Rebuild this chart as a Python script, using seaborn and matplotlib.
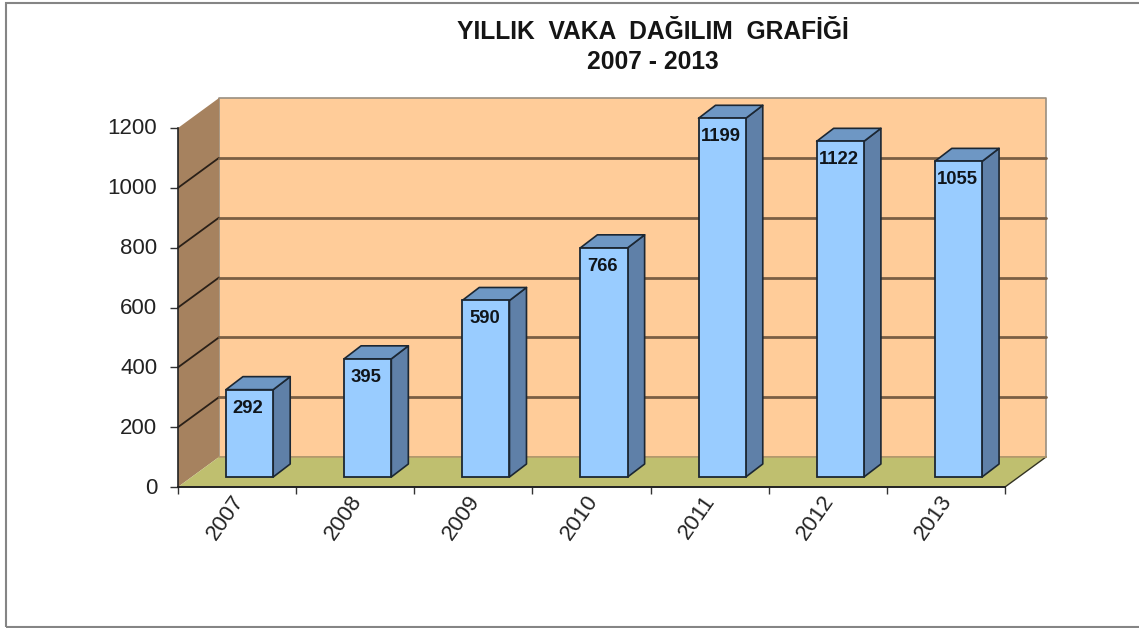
import matplotlib

matplotlib.use("Agg")
import matplotlib.pyplot as plt
import numpy as np
import pandas as pd
import seaborn as sns
from matplotlib.patches import Polygon, Rectangle
from matplotlib.transforms import Affine2D, IdentityTransform

YEARS = ["2007", "2008", "2009", "2010", "2011", "2012", "2013"]
CASES = [292, 395, 590, 766, 1199, 1122, 1055]
Y_TICKS = [0, 200, 400, 600, 800, 1000, 1200]
TITLE = "YILLIK  VAKA  DAĞILIM  GRAFİĞİ\n2007 - 2013"

WALL = "#FFCC99"
SIDE_WALL = "#A6825F"
FLOOR = "#BFBF6F"
BAR_FRONT = "#99CCFF"
BAR_SIDE = "#5F80A8"
BAR_TOP = "#6E97C4"
EDGE = "#1c2733"
GRID = "#7a5f44"
W, H = 1139, 628

sns.set_theme(style="white")
plt.rcParams["font.family"] = ["Liberation Sans", "DejaVu Sans"]

fig = plt.figure(figsize=(W / 100, H / 100), dpi=100, facecolor="white")
ax = fig.add_axes([178 / W, (H - 487) / H, 827 / W, 359 / H])
ax.set_facecolor("none")

df = pd.DataFrame({"year": YEARS, "cases": CASES})
sns.barplot(data=df, x="year", y="cases", width=0.4, color=BAR_FRONT, saturation=1,
            edgecolor=EDGE, linewidth=1.3, ax=ax, zorder=5)
ax.set_xlim(-0.5, 6.5)
ax.set_ylim(0, 1200)
ax.set_xlabel("")
ax.set_ylabel("")

# fake 3d depth, everything below is offset in pixels from the front plane
DX, DY = 41, 30
BAR_SHIFT = (12.5, 10)
BAR_DEPTH = (17, 13)
ident = IdentityTransform()


def px(x, y):
    return ax.transData.transform((x, y))


def poly(points, face, edge="none", lw=0.0, z=1):
    fig_poly = Polygon(np.array(points), closed=True, facecolor=face, edgecolor=edge, linewidth=lw,
                       transform=ident, zorder=z, clip_on=False, joinstyle="round")
    ax.add_patch(fig_poly)


def back(p):
    return p + np.array([DX, DY])


left0, right0 = px(-0.5, 0), px(6.5, 0)
left1, right1 = px(-0.5, 1200), px(6.5, 1200)

poly([back(left0), back(right0), back(right1), back(left1)], WALL, "#9a8f80", 1.2, z=1)
poly([left0, back(left0), back(left1), left1], SIDE_WALL, z=1.2)
poly([left0, right0, back(right0), back(left0)], FLOOR, z=1.4)
ax.plot(*np.array([right0, back(right0)]).T, color="#333322", lw=1, transform=ident, zorder=1.5, clip_on=False)
ax.plot(*np.array([back(left0), back(right0)]).T, color="#b59a6a", lw=1.2, transform=ident, zorder=1.5, clip_on=False)

for tick in Y_TICKS[1:-1]:
    a = px(-0.5, tick)
    ax.plot(*np.array([a, back(a)]).T, color="#2a2018", lw=1.3, transform=ident, zorder=1.6, clip_on=False)
    ax.plot(*np.array([back(a), back(px(6.5, tick))]).T, color=GRID, lw=2, transform=ident, zorder=1.6, clip_on=False)

# bars: move the seaborn faces forward and add side and top from their extents
bar_tf = ax.transData + Affine2D().translate(*BAR_SHIFT)
for bar, value in zip(ax.patches[:len(CASES)], CASES):
    x0, x1 = bar.get_x(), bar.get_x() + bar.get_width()
    bar.set_transform(bar_tf)
    bar.set_clip_on(False)
    br = bar_tf.transform((x1, 0))
    tl = bar_tf.transform((x0, value))
    tr = bar_tf.transform((x1, value))
    d = np.array(BAR_DEPTH)
    poly([br, br + d, tr + d, tr], BAR_SIDE, EDGE, 1.2, z=4)
    poly([tl, tr, tr + d, tl + d], BAR_TOP, EDGE, 1.2, z=4)
    ax.text((x0 + x1) / 2, value, str(value), transform=bar_tf + Affine2D().translate(-1.5, -10),
            ha="center", va="top", fontsize=13.3, fontweight="bold", color="#10151a", zorder=6, clip_on=False)

# ticks sit on category edges, labels on the centres
ax.set_xticks(np.arange(-0.5, 7))
ax.set_xticklabels([])
ax.set_xticks(np.arange(7), labels=YEARS, minor=True)
ax.set_yticks(Y_TICKS)
ax.tick_params(axis="x", which="major", length=5, width=1, color="#333333", bottom=True)
ax.tick_params(axis="x", which="minor", length=0, pad=3, labelsize=16, labelcolor="#222222", labelrotation=55, bottom=True)
ax.tick_params(axis="y", length=5.5, width=1, color="#333333", left=True, pad=9.5, labelsize=16, labelcolor="#222222")
for label in ax.get_xticklabels(minor=True):
    label.set_ha("center")
    label.set_transform(label.get_transform() + Affine2D().translate(-12, 0))
for label in ax.get_yticklabels():
    label.set_transform(label.get_transform() + Affine2D().translate(0, 1.5))

sns.despine(ax=ax)
ax.spines["left"].set_color("#222222")
ax.spines["bottom"].set_color("#222222")
ax.spines["left"].set_zorder(2)
ax.spines["bottom"].set_zorder(2)
ax.spines["left"].set_linewidth(1.2)
ax.spines["bottom"].set_linewidth(1.4)

fig.text(653 / W, 1 - 47 / H, TITLE, ha="center", va="center", fontsize=17.7, fontweight="bold",
         color="#151515", linespacing=1.33)

fig.add_artist(Rectangle((6 / W, 1 / H), 1140 / W, 624.5 / H, transform=fig.transFigure,
                         fill=False, edgecolor="#858585", linewidth=1.5))

fig.savefig("out.png", dpi=100)
